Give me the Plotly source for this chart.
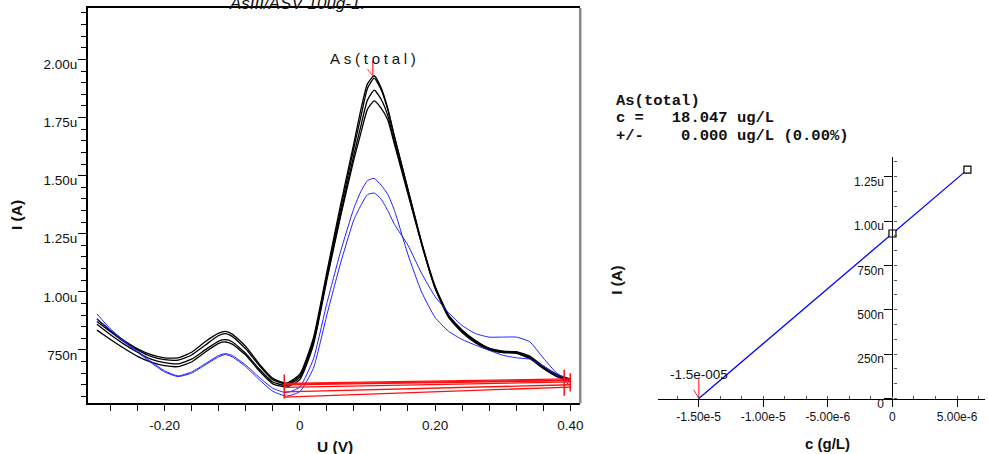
import numpy as np
import plotly.graph_objects as go

# ---------------- data: voltammograms (current in µA) ----------------
potential = [-0.30, -0.28, -0.26, -0.24, -0.22, -0.20, -0.18, -0.16, -0.14, -0.12, -0.11, -0.10,
             -0.08, -0.06, -0.04, -0.02, 0.00, 0.02, 0.04, 0.06, 0.08, 0.09, 0.10, 0.11,
             0.12, 0.13, 0.14, 0.16, 0.18, 0.20, 0.22, 0.24, 0.26, 0.28, 0.30, 0.32, 0.34,
             0.36, 0.38, 0.40]

black1 = [0.883, 0.833, 0.790, 0.755, 0.730, 0.716, 0.716, 0.740, 0.785, 0.822, 0.830, 0.818,
          0.765, 0.690, 0.628, 0.607, 0.645, 0.800, 1.085, 1.370, 1.640, 1.780, 1.895, 1.930,
          1.880, 1.790, 1.670, 1.440, 1.210, 1.020, 0.895, 0.835, 0.790, 0.755, 0.743, 0.742,
          0.723, 0.680, 0.645, 0.625]
black2 = [0.872, 0.828, 0.785, 0.750, 0.722, 0.708, 0.706, 0.728, 0.770, 0.812, 0.820, 0.808,
          0.755, 0.683, 0.622, 0.603, 0.638, 0.790, 1.070, 1.350, 1.620, 1.750, 1.875, 1.920,
          1.872, 1.785, 1.665, 1.440, 1.215, 1.025, 0.900, 0.835, 0.788, 0.758, 0.745, 0.740,
          0.720, 0.675, 0.640, 0.620]
black3 = [0.860, 0.815, 0.775, 0.740, 0.710, 0.695, 0.690, 0.710, 0.750, 0.788, 0.794, 0.785,
          0.735, 0.668, 0.612, 0.597, 0.632, 0.780, 1.060, 1.330, 1.590, 1.710, 1.825, 1.868,
          1.830, 1.760, 1.645, 1.430, 1.210, 1.020, 0.895, 0.830, 0.785, 0.752, 0.740, 0.738,
          0.715, 0.672, 0.638, 0.617]
black4 = [0.835, 0.795, 0.757, 0.722, 0.697, 0.682, 0.678, 0.698, 0.740, 0.778, 0.784, 0.775,
          0.728, 0.660, 0.604, 0.590, 0.622, 0.770, 1.050, 1.320, 1.570, 1.680, 1.785, 1.822,
          1.792, 1.740, 1.635, 1.420, 1.205, 1.015, 0.890, 0.825, 0.780, 0.750, 0.738, 0.735,
          0.713, 0.670, 0.635, 0.613]
blue_hi = [0.905, 0.840, 0.790, 0.745, 0.700, 0.660, 0.638, 0.655, 0.690, 0.726, 0.734, 0.726,
           0.685, 0.632, 0.585, 0.566, 0.590, 0.710, 0.950, 1.170, 1.360, 1.430, 1.478, 1.488,
           1.460, 1.420, 1.350, 1.160, 1.000, 0.890, 0.830, 0.795, 0.770, 0.748, 0.727, 0.716,
           0.710, 0.680, 0.640, 0.597]
blue_lo = [0.885, 0.835, 0.785, 0.740, 0.695, 0.655, 0.635, 0.650, 0.685, 0.720, 0.730, 0.720,
           0.678, 0.622, 0.572, 0.551, 0.570, 0.670, 0.900, 1.120, 1.310, 1.370, 1.418, 1.425,
           1.400, 1.350, 1.290, 1.200, 1.080, 0.980, 0.910, 0.855, 0.820, 0.805, 0.805, 0.805,
           0.785, 0.715, 0.650, 0.616]

black_curves = [black1, black2, black3, black4]
blue_curves = [blue_hi, blue_lo]

# baselines: (start potential, start current) -> (end potential, end current)
base_start_u = -0.023
base_end_u = 0.400
base_start_i = [0.606, 0.603, 0.599, 0.589, 0.569, 0.547]
base_end_i = [0.625, 0.620, 0.618, 0.612, 0.600, 0.590]
# marker ticks at baseline ends: potential, low current, high current
base_marks_u = [-0.023, 0.391, 0.400]
base_marks_lo = [0.541, 0.553, 0.571]
base_marks_hi = [0.644, 0.666, 0.649]

peak_name = "As(total)"
peak_u = 0.108

# ---------------- data: standard addition ----------------
add_conc = [0.0, 5.8e-6]          # g/L
add_current = [0.93, 1.29]        # µA
result_lines = ["As(total)",
                "c =   18.047 ug/L",
                "+/-    0.000 ug/L (0.00%)"]
intercept_label = "-1.5e-005"
title_text = "AsIII/ASV 10ug-1."

left_ytick_vals = [0.75, 1.00, 1.25, 1.50, 1.75, 2.00]
left_ytick_text = ["750n", "1.00u", "1.25u", "1.50u", "1.75u", "2.00u"]
left_xtick_vals = [-0.20, 0.0, 0.20, 0.40]
left_xtick_text = ["-0.20", "0", "0.20", "0.40"]
right_ytick_vals = [0.0, 0.25, 0.50, 0.75, 1.00, 1.25]
right_ytick_text = ["0", "250n", "500n", "750n", "1.00u", "1.25u"]
right_xtick_vals = [-1.5e-5, -1.0e-5, -5.0e-6, 0.0, 5.0e-6]
right_xtick_text = ["-1.50e-5", "-1.00e-5", "-5.00e-6", "0", "5.00e-6"]

# ---------------- figure ----------------
W, H = 988, 454
fig = go.Figure()

for c in black_curves:
    fig.add_trace(go.Scatter(x=potential, y=c, mode="lines",
                             line=dict(color="#000000", width=1.3, shape="spline", smoothing=0.5),
                             xaxis="x", yaxis="y", showlegend=False, hoverinfo="skip"))
for c in blue_curves:
    fig.add_trace(go.Scatter(x=potential, y=c, mode="lines",
                             line=dict(color="#1f1fff", width=1.0, shape="spline", smoothing=0.5),
                             xaxis="x", yaxis="y", showlegend=False, hoverinfo="skip"))
for s, e in zip(base_start_i, base_end_i):
    fig.add_trace(go.Scatter(x=[base_start_u, base_end_u], y=[s, e], mode="lines",
                             line=dict(color="#ff1010", width=1.3),
                             xaxis="x", yaxis="y", showlegend=False, hoverinfo="skip"))
for u, lo, hi in zip(base_marks_u, base_marks_lo, base_marks_hi):
    fig.add_trace(go.Scatter(x=[u, u], y=[lo, hi], mode="lines",
                             line=dict(color="#ff1010", width=1.5),
                             xaxis="x", yaxis="y", showlegend=False, hoverinfo="skip"))

# peak marker
peak_i = max(black1)
fig.add_trace(go.Scatter(x=[peak_u, peak_u], y=[peak_i, peak_i + 0.064], mode="lines",
                         line=dict(color="#ff3030", width=1.3), xaxis="x", yaxis="y",
                         showlegend=False, hoverinfo="skip"))
fig.add_trace(go.Scatter(x=[peak_u - 0.008, peak_u], y=[peak_i + 0.028, peak_i], mode="lines",
                         line=dict(color="#ff3030", width=1.0), xaxis="x", yaxis="y",
                         showlegend=False, hoverinfo="skip"))
fig.add_annotation(x=peak_u, y=peak_i, xref="x", yref="y", yshift=17, showarrow=False,
                   xanchor="center",
                   text="\u2005".join(peak_name), font=dict(family="Liberation Sans", size=15, color="#111"))

# calibration fit
slope, icpt = np.polyfit(add_conc, add_current, 1)
x0 = -icpt / slope
fig.add_trace(go.Scatter(x=[x0, max(add_conc)], y=[0.0, slope * max(add_conc) + icpt], mode="lines",
                         line=dict(color="#0000ff", width=1.3), xaxis="x2", yaxis="y2",
                         showlegend=False, hoverinfo="skip"))
fig.add_trace(go.Scatter(x=add_conc, y=add_current, mode="markers",
                         marker=dict(symbol="square", size=7, color="white",
                                     line=dict(color="black", width=1.2)),
                         xaxis="x2", yaxis="y2", showlegend=False, hoverinfo="skip"))
fig.add_trace(go.Scatter(x=[x0, x0], y=[0.0, 0.11], mode="lines",
                         line=dict(color="#ff3030", width=1.2), xaxis="x2", yaxis="y2",
                         showlegend=False, hoverinfo="skip"))
fig.add_trace(go.Scatter(x=[x0 - 0.4e-6, x0], y=[0.05, 0.0], mode="lines",
                         line=dict(color="#ff3030", width=1.0), xaxis="x2", yaxis="y2",
                         showlegend=False, hoverinfo="skip"))
fig.add_annotation(x=x0, y=0.0, xref="x2", yref="y2", yshift=24, showarrow=False,
                   xanchor="center",
                   text=intercept_label, font=dict(family="Liberation Sans", size=13.5, color="#111"))

# ---------------- axes ----------------
tickfont_l = dict(family="Liberation Sans", size=13.5, color="#111")
tickfont_r = dict(family="Liberation Sans", size=12, color="#111")

fig.update_layout(
    width=W, height=H, autosize=False,
    margin=dict(l=0, r=0, t=0, b=0),
    paper_bgcolor="white", plot_bgcolor="white",
    showlegend=False,
    xaxis=dict(domain=[88 / W, 582 / W], range=[-0.3136, 0.4147], anchor="y",
               showline=True, linecolor="black", linewidth=1.5, mirror=True,
               showgrid=False, zeroline=False,
               tickmode="array", tickvals=left_xtick_vals, ticktext=left_xtick_text,
               ticks="outside", ticklen=6, tickcolor="black", tickwidth=1,
               ticklabelstandoff=3,
               minor=dict(tickmode="linear", tick0=0, dtick=0.04, ticks="outside",
                          ticklen=6, tickcolor="black", tickwidth=1),
               tickfont=tickfont_l),
    yaxis=dict(domain=[1 - 407 / H, 1 - 8 / H], range=[0.5196, 2.2218], anchor="x",
               showline=True, linecolor="black", linewidth=1.5, mirror=False,
               showgrid=False, zeroline=False,
               tickmode="array", tickvals=left_ytick_vals, ticktext=left_ytick_text,
               ticks="outside", ticklen=8, tickcolor="black", tickwidth=1,
               ticklabelshift=5, ticklabelstandoff=-2,
               minor=dict(tickmode="linear", tick0=0, dtick=0.05, ticks="outside",
                          ticklen=5, tickcolor="black", tickwidth=1),
               tickfont=tickfont_l),
    xaxis2=dict(domain=[660 / W, 1.0], range=[-18.14e-6, 7.16e-6], anchor="free",
                position=1 - 402.3 / H,
                showline=True, linecolor="black", linewidth=1.3,
                showgrid=False, zeroline=False,
                tickmode="array", tickvals=right_xtick_vals, ticktext=right_xtick_text,
                ticks="outside", ticklen=7, tickcolor="black", tickwidth=1,
                minor=dict(tickmode="linear", tick0=0, dtick=5e-6 / 3, ticks="inside",
                           ticklen=3, tickcolor="#555", tickwidth=1),
                tickfont=tickfont_r),
    yaxis2=dict(domain=[1 - 410 / H, 1 - 158 / H], range=[-0.0447, 1.3634], anchor="free",
                position=895.2 / W,
                showline=True, linecolor="black", linewidth=1.3,
                showgrid=False, zeroline=False,
                tickmode="array", tickvals=right_ytick_vals, ticktext=right_ytick_text,
                ticks="outside", ticklen=8, tickcolor="black", tickwidth=1,
                ticklabelshift=5, ticklabelstandoff=-2,
                minor=dict(tickmode="linear", tick0=0, dtick=0.25 / 3, ticks="inside",
                           ticklen=3, tickcolor="#555", tickwidth=1),
                tickfont=tickfont_r),
)

# gray right border of left frame
fig.add_shape(type="line", xref="x domain", yref="y domain", x0=1, x1=1, y0=0, y1=1,
              line=dict(color="#8a8a8a", width=2.5))

# titles and labels
fig.add_annotation(x=298 / W, y=1.0, xref="paper", yref="paper", xanchor="center", yanchor="middle",
                   yshift=-3, showarrow=False, text="<i>" + title_text + "</i>",
                   font=dict(family="Liberation Sans", size=17, color="#111"))
fig.add_annotation(x=336 / W, y=1 - 450 / H, xref="paper", yref="paper", showarrow=False,
                   xanchor="center", yanchor="middle",
                   text="<b>U (V)</b>", font=dict(family="Liberation Sans", size=15.5, color="#111"))
fig.add_annotation(x=16 / W, y=1 - 217 / H, xref="paper", yref="paper", showarrow=False,
                   xanchor="center", yanchor="middle",
                   textangle=-90, text="<b>I (A)</b>",
                   font=dict(family="Liberation Sans", size=15.5, color="#111"))
fig.add_annotation(x=830 / W, y=1 - 447 / H, xref="paper", yref="paper", showarrow=False,
                   xanchor="center", yanchor="middle",
                   text="<b>c (g/L)</b>", font=dict(family="Liberation Sans", size=15, color="#111"))
fig.add_annotation(x=618 / W, y=1 - 283 / H, xref="paper", yref="paper", showarrow=False,
                   xanchor="center", yanchor="middle",
                   textangle=-90, text="<b>I (A)</b>",
                   font=dict(family="Liberation Sans", size=15, color="#111"))

for k, line in enumerate(result_lines):
    fig.add_annotation(x=616 / W, y=1 - (102 + 17.5 * k) / H, xref="paper", yref="paper",
                       xanchor="left", yanchor="middle", showarrow=False,
                       text="<b>" + line.replace(" ", "\u00a0") + "</b>",
                       font=dict(family="Liberation Mono", size=15.5, color="#111"))

fig.write_html("out.html", config={"displayModeBar": False},
               post_script="document.body.style.margin='0';document.body.style.overflow='hidden';")
